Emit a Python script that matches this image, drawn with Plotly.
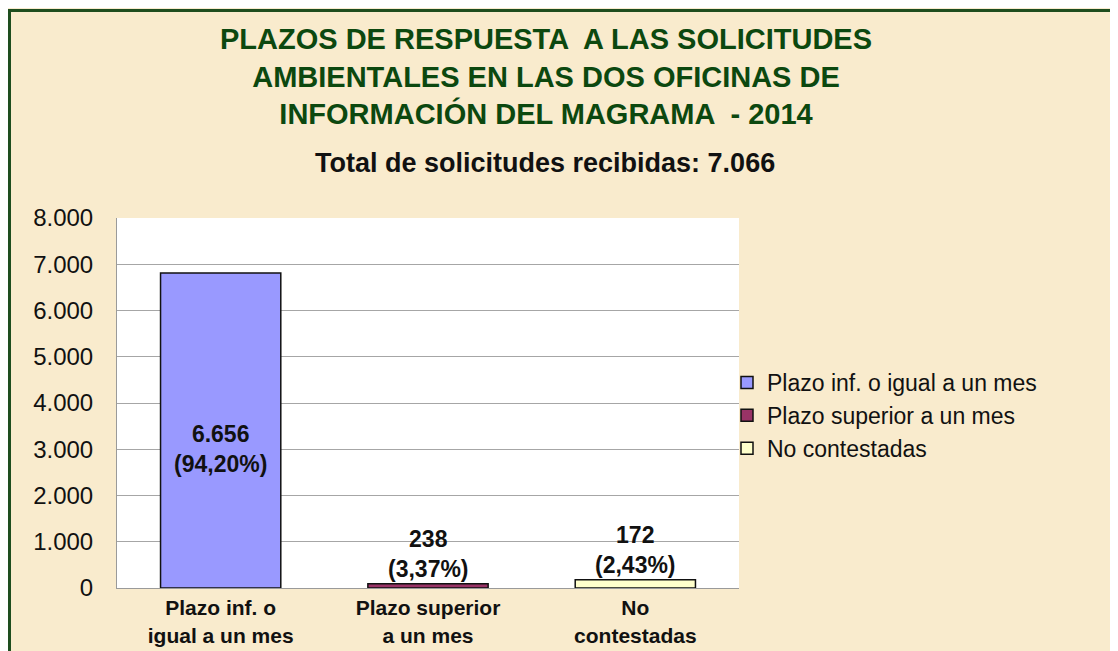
import plotly.graph_objects as go

# ---- data ----
categories = ["Plazo inf. o<br>igual a un mes", "Plazo superior<br>a un mes", "No<br>contestadas"]
legend_names = ["Plazo inf. o igual a un mes", "Plazo superior a un mes", "No contestadas"]
bar_values = [6810, 90, 180]          # bar heights as drawn
label_counts = ["6.656", "238", "172"]
label_pcts = ["(94,20%)", "(3,37%)", "(2,43%)"]
bar_colors = ["#9999FF", "#993366", "#FFFFCC"]
y_ticks = [0, 1000, 2000, 3000, 4000, 5000, 6000, 7000, 8000]

title_lines = [
    "PLAZOS DE RESPUESTA  A LAS SOLICITUDES",
    "AMBIENTALES EN LAS DOS OFICINAS DE",
    "INFORMACIÓN DEL MAGRAMA  - 2014",
]
subtitle = "Total de solicitudes recibidas: 7.066"

# page is rendered with an 8px body margin
OFF = 8
W, H = 1118 - OFF, 651 - OFF
L, T = 117 - OFF, 218 - OFF
R = W - (739 - OFF)
B = H - (588 - OFF)
PW, PH = W - L - R, H - T - B

def px_x(px):  # page pixel -> paper x
    return (px - OFF - L) / PW

def px_y(py):  # page pixel -> paper y
    return (H - B - (py - OFF)) / PH

FONT = "Liberation Sans, Arial, sans-serif"
BG = "#F9EBCD"
GREEN = "#0C480F"
FRAME = "#1E4D1E"

fig = go.Figure()
for i in range(len(categories)):
    fig.add_trace(go.Bar(
        x=[categories[i]],
        y=[bar_values[i]],
        name=legend_names[i],
        width=0.58,
        marker=dict(color=bar_colors[i], line=dict(color="#111111", width=1.5)),
        hoverinfo="skip",
    ))

annotations = [dict(
    text="<b>" + "<br>".join(title_lines) + "</b>",
    x=px_x(546), y=px_y(77), xref="paper", yref="paper",
    xanchor="center", yanchor="middle", showarrow=False,
    font=dict(family=FONT, size=29, color=GREEN),
)]
annotations.append(dict(
    text=f"<b>{subtitle}</b>", x=px_x(545), y=px_y(163), xref="paper", yref="paper",
    xanchor="center", yanchor="middle", showarrow=False,
    font=dict(family=FONT, size=27, color="#111111"),
))

# value labels: first inside the bar, the small ones above the bar
for i in range(len(categories)):
    txt = f"<b>{label_counts[i]}<br>{label_pcts[i]}</b>"
    if i == 0:
        annotations.append(dict(
            text=txt, x=categories[i], y=bar_values[i] / 2, xref="x", yref="y",
            xanchor="center", yanchor="middle", yshift=-18, showarrow=False,
            font=dict(family=FONT, size=23, color="#111111"),
        ))
    else:
        annotations.append(dict(
            text=txt, x=categories[i], y=bar_values[i], xref="x", yref="y",
            xanchor="center", yanchor="bottom", yshift=0, showarrow=False,
            font=dict(family=FONT, size=23, color="#111111"),
        ))

shapes = [
    dict(type="line", xref="paper", yref="paper", x0=px_x(9.5), x1=px_x(9.5), y0=px_y(700), y1=px_y(9),
         line=dict(color=FRAME, width=3), layer="above"),
    dict(type="line", xref="paper", yref="paper", x0=px_x(8), x1=px_x(1200), y0=px_y(10.5), y1=px_y(10.5),
         line=dict(color=FRAME, width=3), layer="above"),
]

fig.update_layout(
    width=W, height=H,
    margin=dict(l=L, r=R, t=T, b=B, pad=0, autoexpand=False),
    paper_bgcolor=BG, plot_bgcolor="white",
    separators=",.",
    barmode="overlay",
    font=dict(family=FONT, color="#111111"),
    showlegend=True,
    legend=dict(
        x=px_x(727), y=px_y(361), xanchor="left", yanchor="top",
        bgcolor="rgba(0,0,0,0)", font=dict(family=FONT, size=23, color="#111111"),
        tracegroupgap=0, itemwidth=30,
    ),
    annotations=annotations,
    shapes=shapes,
)
fig.update_xaxes(
    showgrid=False, showline=True, linecolor="#9A9A9A", linewidth=1,
    tickfont=dict(family=FONT, size=21, color="#111111", weight="bold"),
    ticks="", ticklabelstandoff=1, fixedrange=True, automargin=False,
)
fig.update_yaxes(
    range=[0, 8000], tickvals=y_ticks, tickformat=",d",
    showgrid=True, gridcolor="#A6A6A6", gridwidth=1,
    showline=True, linecolor="#9A9A9A", linewidth=1,
    zeroline=False,
    tickfont=dict(family=FONT, size=24, color="#111111"),
    ticks="", ticklabelstandoff=18, fixedrange=True, automargin=False,
)

fig.write_html("out.html")
